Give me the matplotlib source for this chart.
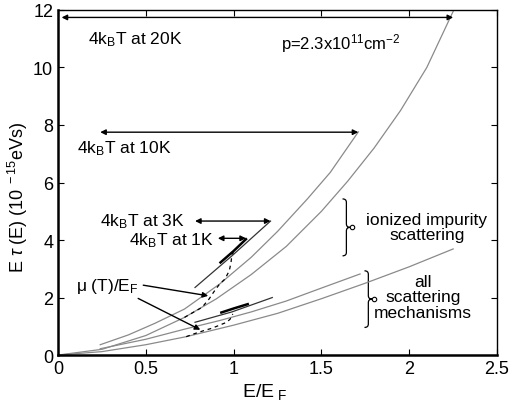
import matplotlib.pyplot as plt
from matplotlib.path import Path
from matplotlib.patches import PathPatch

plt.rcParams['font.family'] = ['Liberation Sans', 'DejaVu Sans']
plt.rcParams['mathtext.fontset'] = 'custom'
plt.rcParams['mathtext.rm'] = 'Liberation Sans'
plt.rcParams['mathtext.it'] = 'Liberation Sans:italic'

# ionized impurity scattering, E tau(E) segments (x = E/E_F)
imp_20K_x = [0, 0.25, 0.5, 0.72, 0.9, 1.1, 1.3, 1.5, 1.65, 1.8, 1.95, 2.1, 2.25]
imp_20K_y = [0, 0.2, 0.68, 1.31, 1.95, 2.8, 3.78, 5.0, 6.05, 7.2, 8.5, 10.0, 11.95]
imp_10K_x = [0.24, 0.4, 0.55, 0.72, 0.92, 1.1, 1.25, 1.42, 1.55, 1.71]
imp_10K_y = [0.36, 0.7, 1.1, 1.6, 2.47, 3.4, 4.3, 5.43, 6.35, 7.76]
imp_3K_x = [0.78, 0.99, 1.21]
imp_3K_y = [2.35, 3.45, 4.66]
imp_1K_x = [0.925, 1.0, 1.07]
imp_1K_y = [3.22, 3.62, 4.03]

# all scattering mechanisms
all_20K_x = [0, 0.25, 0.5, 0.73, 1.0, 1.25, 1.5, 1.75, 2.0, 2.25]
all_20K_y = [0, 0.12, 0.36, 0.64, 1.04, 1.45, 1.96, 2.5, 3.07, 3.69]
all_10K_x = [0.24, 0.5, 0.72, 0.92, 1.1, 1.3, 1.5, 1.72]
all_10K_y = [0.22, 0.55, 0.9, 1.2, 1.5, 1.88, 2.33, 2.82]
all_3K_x = [0.78, 0.99, 1.22]
all_3K_y = [1.14, 1.5, 2.0]
all_1K_x = [0.93, 1.0, 1.08]
all_1K_y = [1.48, 1.62, 1.77]

# chemical potential mu(T)/E_F traces
mu_imp_x = [0.72, 0.82, 0.86, 0.885, 0.92, 0.95, 0.975, 0.985, 0.99, 1.0]
mu_imp_y = [1.31, 1.66, 1.95, 2.18, 2.47, 2.64, 2.93, 3.22, 3.5, 3.57]
mu_all_x = [0.73, 0.78, 0.83, 0.875, 0.92, 0.96, 0.98, 0.995]
mu_all_y = [0.64, 0.75, 0.85, 0.93, 1.04, 1.14, 1.25, 1.43]

# 4kBT window arrows: (x_left, x_right, y)
windows = {'20K': (0.02, 2.25, 11.74), '10K': (0.24, 1.71, 7.75),
           '3K': (0.78, 1.21, 4.66), '1K': (0.91, 1.07, 4.06)}


def brace(ax, x, y0, y1, w=0.022, h=0.12):
    # right-pointing curly brace from y0 (bottom) to y1 (top)
    ym = (y0 + y1) / 2
    verts = [(x, y1), (x + w, y1), (x + w, y1 - h), (x + w, ym + h),
             (x + w, ym), (x + 2 * w, ym),
             (x + w, ym), (x + w, ym - h),
             (x + w, y0 + h), (x + w, y0), (x, y0)]
    codes = [Path.MOVETO, Path.CURVE3, Path.CURVE3, Path.LINETO,
             Path.CURVE3, Path.CURVE3,
             Path.CURVE3, Path.CURVE3,
             Path.LINETO, Path.CURVE3, Path.CURVE3]
    ax.add_patch(PathPatch(Path(verts, codes), fc='none', ec='black', lw=0.9))
    ax.plot([x + 2 * w + 0.008], [ym], marker='o', ms=3.2, mfc='white',
            mec='black', mew=0.8)


fig = plt.figure(figsize=(5.14, 4.06), dpi=100)
ax = fig.add_axes([0.113, 0.123, 0.854, 0.850])

grey = '#8a8a8a'
ax.plot(imp_20K_x, imp_20K_y, color=grey, lw=0.9)
ax.plot(imp_10K_x, imp_10K_y, color=grey, lw=0.9)
ax.plot(imp_3K_x, imp_3K_y, color='#333333', lw=0.9)
ax.plot(imp_1K_x, imp_1K_y, color='black', lw=1.8)
ax.plot(all_20K_x, all_20K_y, color=grey, lw=0.9)
ax.plot(all_10K_x, all_10K_y, color=grey, lw=0.9)
ax.plot(all_3K_x, all_3K_y, color='#333333', lw=0.9)
ax.plot(all_1K_x, all_1K_y, color='black', lw=1.8)
ax.plot(mu_imp_x, mu_imp_y, 'k--', lw=0.9, dashes=(3, 3))
ax.plot(mu_all_x, mu_all_y, 'k--', lw=0.9, dashes=(3, 3))

for key, (x0, x1, y) in windows.items():
    ax.annotate('', xy=(x0, y), xytext=(x1, y),
                arrowprops=dict(arrowstyle='<|-|>', color='black', lw=1.0,
                                mutation_scale=8, shrinkA=0, shrinkB=0))

fs = 12.5
ax.text(0.17, 11.0, r'4k$_{\rm B}$T at 20K', fontsize=fs, va='center')
ax.text(0.11, 7.2, r'4k$_{\rm B}$T at 10K', fontsize=fs, va='center')
ax.text(0.72, 4.66, r'4k$_{\rm B}$T at 3K', fontsize=fs, va='center', ha='right')
ax.text(0.885, 4.02, r'4k$_{\rm B}$T at 1K', fontsize=fs, va='center', ha='right')
ax.text(1.27, 10.85, r'p=2.3x10$^{11}$cm$^{-2}$', fontsize=12, va='center')

ax.text(0.1, 2.42, r'μ (T)/E$_{\rm F}$', fontsize=fs, va='center')
ax.annotate('', xy=(0.855, 2.06), xytext=(0.485, 2.43),
            arrowprops=dict(arrowstyle='-|>', color='black', lw=1.0,
                            mutation_scale=8, shrinkA=0, shrinkB=0))
ax.annotate('', xy=(0.81, 0.88), xytext=(0.456, 1.97),
            arrowprops=dict(arrowstyle='-|>', color='black', lw=1.0,
                            mutation_scale=8, shrinkA=0, shrinkB=0))

ax.text(2.1, 4.45, 'ionized impurity\nscattering', fontsize=fs,
        ha='center', va='center', linespacing=1.05)
ax.text(2.08, 2.03, 'all\nscattering\nmechanisms', fontsize=fs,
        ha='center', va='center', linespacing=1.05)

brace(ax, 1.62, 3.45, 5.43)
brace(ax, 1.745, 0.96, 2.93)

ax.set_xlim(0, 2.5)
ax.set_ylim(0, 12)
ax.set_xticks([0, 0.5, 1, 1.5, 2, 2.5])
ax.set_xticklabels(['0', '0.5', '1', '1.5', '2', '2.5'])
ax.set_yticks([0, 2, 4, 6, 8, 10, 12])
ax.tick_params(direction='in', top=True, right=True, labelsize=13, length=4)
for s in ax.spines.values():
    s.set_linewidth(1.0)
ax.spines['left'].set_linewidth(1.8)
ax.spines['bottom'].set_linewidth(1.8)

ax.set_xlabel(r'E/E$_{\ \rm F}$', fontsize=14)
ax.xaxis.set_label_coords(0.47, -0.075)
ax.set_ylabel(r'E $\tau$ (E) (10$^{\ -15}$eVs)', fontsize=13)
ax.yaxis.set_label_coords(-0.065, 0.46)

fig.savefig('out.png', dpi=100)
